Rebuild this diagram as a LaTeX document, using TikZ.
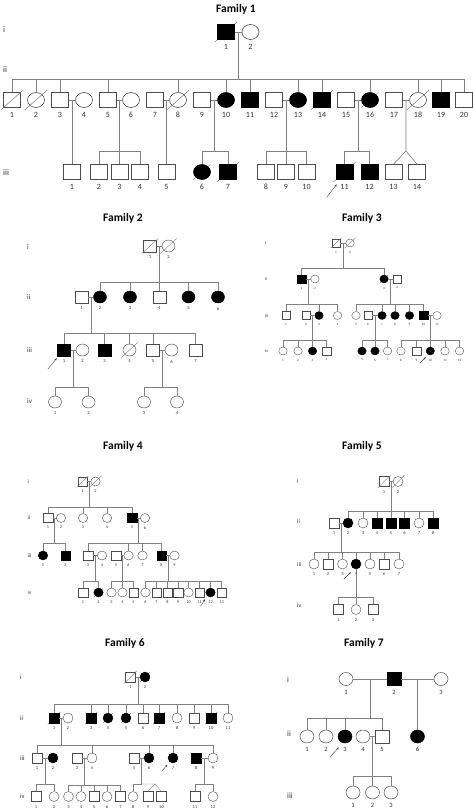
\documentclass[tikz,border=0pt]{standalone}
\usepackage{fontspec}
\setmainfont{Carlito}
\usetikzlibrary{shapes.geometric,calc,arrows.meta}

\tikzset{
  sz/.style={minimum width=10pt,minimum height=10pt},
  sq/.style={rectangle,draw=black!70,inner sep=0pt,sz},
  ci/.style={ellipse,draw=black!70,inner sep=0pt,sz},
  aff/.style={fill=black,draw=black},
  dead/.style={append after command={(\tikzlastnode.west |- \tikzlastnode.south) edge[slash] (\tikzlastnode.east |- \tikzlastnode.north)}},
  deadf/.style={aff,append after command={
    (\tikzlastnode.south west) edge[slash,shorten <=0pt] ($(\tikzlastnode.south west)!-0.1pt!(\tikzlastnode.north east)$)
    (\tikzlastnode.north east) edge[slash,shorten <=0pt] ($(\tikzlastnode.north east)!-0.1pt!(\tikzlastnode.south west)$)}},
  slash/.style={draw=black!55,line width=0.35pt,shorten <=-1.5pt,shorten >=-1.5pt},
  ln/.style={draw=black!50,line width=0.4pt},
  pro/.style={draw=black!75,line width=0.4pt,-{Stealth[length=2.5pt,width=2pt]}},
  num/.style={anchor=north,inner sep=0pt,text=black!80,font=\fontsize{5}{5}\selectfont,yshift=-3pt},
  gen/.style={anchor=west,inner sep=0pt,text=black!80,font=\fontsize{6}{6}\selectfont},
  title/.style={font=\fontsize{11.5}{13}\selectfont\bfseries}
}

% person: options, name prefix, number, position
\newcommand{\pn}[4]{\node[#1] (#2#3) at (#4) {}; \node[num] (#2#3n) at (#2#3.south) {#3};}
% parents, sibship line y, children
\newcommand{\kids}[4]{%
  \coordinate (#1#2) at ($(#1)!.5!(#2)$);
  \coordinate (sy) at (0,#3);
  \coordinate (#1#2s) at (#1#2 |- sy);
  \draw[ln] (#1#2) -- (#1#2s);
  \foreach \k in {#4} {\draw[ln] (#1#2s) -| (\k);}
}
\newcommand{\proband}[3]{\draw[pro] ($(#1.west |- #1.south)+(#2)$) -- ($(#1.west |- #1.south)+(#3)$);}

\begin{document}
\begin{tikzpicture}[x=1pt,y=-1pt]
\useasboundingbox (0,0) rectangle (473,811);

% Family 1
\begin{scope}[sz/.style={minimum width=17pt,minimum height=15pt,line width=0.6pt},
  num/.append style={font=\fontsize{8}{8}\selectfont,yshift=-1pt},
  gen/.append style={font=\fontsize{8.5}{9}\selectfont},
  ln/.append style={line width=0.6pt},slash/.append style={line width=0.45pt,shorten <=-3pt,shorten >=-3pt}]
\node[title] (aT) at (236,9) {Family 1};
\node[gen] (aGi) at (3,30) {i};
\node[gen] (aGii) at (3,70) {ii};
\node[gen] (aGiii) at (3,173) {iii};
\pn{sq,deadf}{aI}{1}{226,32}
\pn{ci}{aI}{2}{250.5,32}
\pn{sq,dead}{aII}{1}{12,100}
\pn{ci,dead}{aII}{2}{36,100}
\pn{sq}{aII}{3}{60,100}
\pn{ci}{aII}{4}{84,100}
\pn{sq}{aII}{5}{108,100}
\pn{ci}{aII}{6}{131,100}
\pn{sq}{aII}{7}{155,100}
\pn{ci,dead}{aII}{8}{178,100}
\pn{sq}{aII}{9}{202,100}
\pn{ci,aff}{aII}{10}{226,100}
\pn{sq,aff}{aII}{11}{250,100}
\pn{sq}{aII}{12}{274,100}
\pn{ci,aff}{aII}{13}{298,100}
\pn{sq,deadf}{aII}{14}{322,100}
\pn{sq}{aII}{15}{346,100}
\pn{ci,deadf}{aII}{16}{370,100}
\pn{sq}{aII}{17}{394,100}
\pn{ci,dead}{aII}{18}{418,100}
\pn{sq,aff}{aII}{19}{441,100}
\pn{sq}{aII}{20}{464,100}
\pn{sq}{aIII}{1}{72,172}
\pn{sq}{aIII}{2}{99,172}
\pn{sq}{aIII}{3}{119.5,172}
\pn{sq}{aIII}{4}{140,172}
\pn{sq}{aIII}{5}{166.5,172}
\pn{ci,deadf}{aIII}{6}{202,172}
\pn{sq,deadf}{aIII}{7}{228,172}
\pn{sq}{aIII}{8}{266,172}
\pn{sq}{aIII}{9}{286,172}
\pn{sq}{aIII}{10}{306.5,172}
\pn{sq,deadf}{aIII}{11}{344.5,172}
\pn{sq,aff}{aIII}{12}{369.5,172}
\pn{sq}{aIII}{13}{393.5,172}
\pn{sq}{aIII}{14}{417,172}
\draw[ln] (aI1) -- (aI2);
\kids{aI1}{aI2}{79}{aII1,aII2,aII3,aII5,aII8,aII10,aII11,aII13,aII14,aII16,aII18,aII19,aII20}
\foreach \a/\b in {aII3/aII4,aII5/aII6,aII7/aII8,aII9/aII10,aII12/aII13,aII15/aII16,aII17/aII18}
  \draw[ln] (\a) -- (\b);
\kids{aII3}{aII4}{160}{aIII1}
\kids{aII5}{aII6}{151}{aIII2,aIII3,aIII4}
\kids{aII7}{aII8}{160}{aIII5}
\kids{aII9}{aII10}{151}{aIII6,aIII7}
\kids{aII12}{aII13}{151}{aIII8,aIII9,aIII10}
\kids{aII15}{aII16}{151}{aIII11,aIII12}
% twins
\coordinate (aII17aII18) at ($(aII17)!.5!(aII18)$);
\coordinate (sy) at (0,151);
\coordinate (aTw) at (aII17aII18 |- sy);
\draw[ln] (aII17aII18) -- (aTw) -- (aIII13.north);
\draw[ln] (aTw) -- (aIII14.north);
\proband{aIII11}{-9,17.5}{1,4.5}
\end{scope}

% Family 2
\begin{scope}[sz/.style={minimum width=13pt,minimum height=12pt,line width=0.45pt},
  num/.append style={font=\fontsize{4.6}{5}\selectfont,yshift=-0.5pt},
  gen/.append style={font=\fontsize{7}{7}\selectfont},
  ln/.append style={line width=0.45pt},slash/.append style={shorten <=-2pt,shorten >=-2pt}]
\node[title] (bT) at (123,218) {Family 2};
\node[gen] (bGi) at (27,247) {i};
\node[gen] (bGii) at (27,297) {ii};
\node[gen] (bGiii) at (27,350) {iii};
\node[gen] (bGiv) at (27,401) {iv};
\pn{sq,dead}{bI}{1}{150,246}
\pn{ci,dead}{bI}{2}{168.5,246}
\pn{sq}{bII}{1}{81.5,297}
\pn{ci,aff}{bII}{2}{100,297}
\pn{ci,aff}{bII}{3}{130,297}
\pn{sq}{bII}{4}{159.25,297}
\pn{ci,aff}{bII}{5}{188.5,297}
\pn{ci,aff}{bII}{6}{218,297}
\pn{sq,aff}{bIII}{1}{64,350}
\pn{ci}{bIII}{2}{82.5,350}
\pn{sq,aff}{bIII}{3}{104.5,350}
\pn{ci,dead}{bIII}{4}{129.5,350}
\pn{sq}{bIII}{5}{153,350}
\pn{ci}{bIII}{6}{171.5,350}
\pn{sq}{bIII}{7}{195.5,350}
\pn{ci}{bIV}{1}{55,402}
\pn{ci}{bIV}{2}{88.5,402}
\pn{ci}{bIV}{3}{144,402}
\pn{ci}{bIV}{4}{177,402}
\draw[ln] (bI1) -- (bI2);
\kids{bI1}{bI2}{282}{bII2,bII3,bII4,bII5,bII6}
\draw[ln] (bII1) -- (bII2);
\kids{bII1}{bII2}{333}{bIII1,bIII3,bIII4,bIII5,bIII7}
\draw[ln] (bIII1) -- (bIII2);
\draw[ln] (bIII5) -- (bIII6);
\kids{bIII1}{bIII2}{387}{bIV1,bIV2}
\kids{bIII5}{bIII6}{387}{bIV3,bIV4}
\proband{bIII1}{-9.5,13}{-0.5,2}
\end{scope}

% Family 3
\begin{scope}[sz/.style={minimum width=8.5pt,minimum height=8pt,line width=0.35pt},
  num/.append style={font=\fontsize{3.3}{4}\selectfont,yshift=-0.5pt},
  gen/.append style={font=\fontsize{4.5}{5}\selectfont},
  ln/.append style={line width=0.35pt}]
\node[title] (cT) at (362,218) {Family 3};
\node[gen] (cGi) at (265,243) {i};
\node[gen] (cGii) at (265,279) {ii};
\node[gen] (cGiii) at (265,315.5) {iii};
\node[gen] (cGiv) at (265,351) {iv};
\pn{sq,dead}{cI}{1}{336,243}
\pn{ci,dead}{cI}{2}{350,243}
\pn{sq,aff}{cII}{1}{301.5,279}
\pn{ci}{cII}{2}{315,279}
\pn{ci,deadf}{cII}{3}{384,279}
\pn{sq}{cII}{4}{397,279}
\pn{sq}{cIII}{1}{286,315.5}
\pn{sq}{cIII}{2}{306,315.5}
\pn{ci,aff}{cIII}{3}{319,315.5}
\pn{ci}{cIII}{4}{337.5,315.5}
\pn{ci}{cIII}{5}{356,315.5}
\pn{sq}{cIII}{6}{368,315.5}
\pn{ci,aff}{cIII}{7}{382,315.5}
\pn{ci,aff}{cIII}{8}{395,315.5}
\pn{ci,aff}{cIII}{9}{409.5,315.5}
\pn{sq,aff}{cIII}{10}{423.5,315.5}
\pn{ci}{cIII}{11}{437,315.5}
\pn{ci}{cIV}{1}{283,351}
\pn{ci}{cIV}{2}{298,351}
\pn{ci,aff}{cIV}{3}{312.5,351}
\pn{sq}{cIV}{4}{326.5,351}
\pn{ci,aff}{cIV}{5}{362,351}
\pn{ci,aff}{cIV}{6}{375,351}
\pn{ci}{cIV}{7}{387.5,351}
\pn{ci}{cIV}{8}{401,351}
\pn{sq}{cIV}{9}{416.5,351}
\pn{ci,aff}{cIV}{10}{430.25,351}
\pn{ci}{cIV}{11}{445,351}
\pn{ci}{cIV}{12}{459.5,351}
\draw[ln] (cI1) -- (cI2);
\kids{cI1}{cI2}{268}{cII1,cII3}
\draw[ln] (cII1) -- (cII2);
\draw[ln] (cII3) -- (cII4);
\kids{cII1}{cII2}{304}{cIII1,cIII3,cIII4}
\kids{cII3}{cII4}{304}{cIII5,cIII7,cIII8,cIII9,cIII10}
\foreach \a/\b in {cIII2/cIII3,cIII6/cIII7,cIII10/cIII11}
  \draw[ln] (\a) -- (\b);
\kids{cIII2}{cIII3}{340}{cIV1,cIV2,cIV3,cIV4}
\kids{cIII6}{cIII7}{340}{cIV5,cIV6,cIV7}
\kids{cIII10}{cIII11}{340}{cIV8,cIV9,cIV10,cIV11,cIV12}
\proband{cIV10}{-6,8}{0,2}
\end{scope}

% Family 4
\begin{scope}[sz/.style={minimum width=9.5pt,minimum height=9pt,line width=0.4pt},
  num/.append style={font=\fontsize{4.2}{5}\selectfont,yshift=-0.3pt},
  gen/.append style={font=\fontsize{5.5}{6}\selectfont}]
\node[title] (dT) at (123,446) {Family 4};
\node[gen] (dGi) at (27.5,482) {i};
\node[gen] (dGii) at (27.5,518) {ii};
\node[gen] (dGiii) at (27.5,555.5) {iii};
\node[gen] (dGiv) at (27.5,592.5) {iv};
\pn{sq,dead}{dI}{1}{82.5,481.5}
\pn{ci,dead}{dI}{2}{95.5,481.5}
\pn{sq}{dII}{1}{48,518}
\pn{ci}{dII}{2}{61,518}
\pn{ci}{dII}{3}{83,518}
\pn{ci}{dII}{4}{107,518}
\pn{sq,aff}{dII}{5}{132,518}
\pn{ci}{dII}{6}{145,518}
\pn{ci,aff}{dIII}{1}{43,555.5}
\pn{sq,aff}{dIII}{2}{65.5,555.5}
\pn{sq}{dIII}{3}{88,555.5}
\pn{ci}{dIII}{4}{102,555.5}
\pn{sq}{dIII}{5}{116,555.5}
\pn{ci}{dIII}{6}{128.5,555.5}
\pn{ci}{dIII}{7}{142.5,555.5}
\pn{sq,aff}{dIII}{8}{161.5,555.5}
\pn{ci}{dIII}{9}{174.5,555.5}
\pn{sq}{dIV}{1}{83,592.5}
\pn{ci,deadf}{dIV}{2}{98.5,592.5}
\pn{ci}{dIV}{3}{111.5,592.5}
\pn{ci}{dIV}{4}{122.5,592.5}
\pn{sq}{dIV}{5}{133.5,592.5}
\pn{ci}{dIV}{6}{145.5,592.5}
\pn{sq}{dIV}{7}{156.5,592.5}
\pn{sq}{dIV}{8}{167.5,592.5}
\pn{sq}{dIV}{9}{178,592.5}
\pn{ci}{dIV}{10}{188.5,592.5}
\pn{sq}{dIV}{11}{199.5,592.5}
\pn{ci,aff}{dIV}{12}{210.5,592.5}
\pn{sq}{dIV}{13}{221.5,592.5}
\draw[ln] (dI1) -- (dI2);
\kids{dI1}{dI2}{507}{dII1,dII3,dII4,dII5}
\draw[ln] (dII1) -- (dII2);
\draw[ln] (dII5) -- (dII6);
\kids{dII1}{dII2}{543}{dIII1,dIII2}
\kids{dII5}{dII6}{543}{dIII3,dIII6,dIII7,dIII8}
\foreach \a/\b in {dIII3/dIII4,dIII5/dIII6,dIII8/dIII9}
  \draw[ln] (\a) -- (\b);
\kids{dIII3}{dIII4}{581}{dIV1,dIV2}
\kids{dIII5}{dIII6}{581}{dIV3,dIV4,dIV5}
\kids{dIII8}{dIII9}{581}{dIV6,dIV7,dIV8,dIV9,dIV10,dIV11,dIV12,dIV13}
\proband{dIV12}{-5,9}{-0.5,2}
\end{scope}

% Family 5
\begin{scope}[sz/.style={minimum width=10pt,minimum height=10pt,line width=0.4pt},
  num/.append style={font=\fontsize{4.5}{5}\selectfont,yshift=-0.5pt},
  gen/.append style={font=\fontsize{6}{6}\selectfont}]
\node[title] (eT) at (362,446) {Family 5};
\node[gen] (eGi) at (297,481) {i};
\node[gen] (eGii) at (297,521) {ii};
\node[gen] (eGiii) at (297,564) {iii};
\node[gen] (eGiv) at (297,605) {iv};
\pn{sq,dead}{eI}{1}{384,481.5}
\pn{ci,dead}{eI}{2}{398,481.5}
\pn{sq}{eII}{1}{334,523}
\pn{ci,aff}{eII}{2}{348,523}
\pn{ci}{eII}{3}{363,523}
\pn{sq,aff}{eII}{4}{377,523}
\pn{sq,aff}{eII}{5}{391,523}
\pn{sq,aff}{eII}{6}{404.5,523}
\pn{ci}{eII}{7}{419,523}
\pn{sq,aff}{eII}{8}{433,523}
\pn{ci}{eIII}{1}{314,564}
\pn{sq}{eIII}{2}{328,564}
\pn{ci}{eIII}{3}{342.5,564}
\pn{ci,aff}{eIII}{4}{356,564}
\pn{ci}{eIII}{5}{370,564}
\pn{sq}{eIII}{6}{384,564}
\pn{ci}{eIII}{7}{399,564}
\pn{sq}{eIV}{1}{338.5,609.5}
\pn{ci}{eIV}{2}{356,609.5}
\pn{sq}{eIV}{3}{373,609.5}
\draw[ln] (eI1) -- (eI2);
\kids{eI1}{eI2}{511}{eII2,eII3,eII4,eII5,eII6,eII7,eII8}
\draw[ln] (eII1) -- (eII2);
\kids{eII1}{eII2}{552}{eIII1,eIII2,eIII3,eIII4,eIII5,eIII6,eIII7}
\coordinate (sy) at (0,597);
\coordinate (eIII4s) at (eIII4 |- sy);
\draw[ln] (eIII4) -- (eIII4s);
\foreach \k in {eIV1,eIV2,eIV3} {\draw[ln] (eIII4s) -| (\k);}
\proband{eIII4}{-7,10}{0,3}
\end{scope}

% Family 6
\begin{scope}[sz/.style={minimum width=10pt,minimum height=10pt,line width=0.4pt},
  num/.append style={font=\fontsize{4.5}{5}\selectfont,yshift=-0.5pt},
  gen/.append style={font=\fontsize{6.5}{7}\selectfont}]
\node[title] (fT) at (125,643) {Family 6};
\node[gen] (fGi) at (20,677) {i};
\node[gen] (fGii) at (20,718) {ii};
\node[gen] (fGiii) at (20,758) {iii};
\node[gen] (fGiv) at (20,796.5) {iv};
\pn{sq,dead}{fI}{1}{130.5,677}
\pn{ci,deadf}{fI}{2}{145,677}
\pn{sq,deadf}{fII}{1}{54,718}
\pn{ci}{fII}{2}{68,718}
\pn{sq,deadf}{fII}{3}{91,718}
\pn{ci,deadf}{fII}{4}{108,718}
\pn{ci,deadf}{fII}{5}{126,718}
\pn{sq}{fII}{6}{143,718}
\pn{sq,deadf}{fII}{7}{159,718}
\pn{ci}{fII}{8}{177,718}
\pn{sq}{fII}{9}{194,718}
\pn{sq,deadf}{fII}{10}{211,718}
\pn{ci}{fII}{11}{228,718}
\pn{sq}{fIII}{1}{37,758}
\pn{ci,aff}{fIII}{2}{53,758}
\pn{sq}{fIII}{3}{77,758}
\pn{ci}{fIII}{4}{92,758}
\pn{sq}{fIII}{5}{134,758}
\pn{ci,aff}{fIII}{6}{149,758}
\pn{ci,aff}{fIII}{7}{173,758}
\pn{sq,aff}{fIII}{8}{196,758}
\pn{ci}{fIII}{9}{213,758}
\pn{sq}{fIV}{1}{36,796.5}
\pn{ci}{fIV}{2}{54,796.5}
\pn{ci}{fIV}{3}{68.5,796.5}
\pn{ci}{fIV}{4}{81,796.5}
\pn{sq}{fIV}{5}{94,796.5}
\pn{ci}{fIV}{6}{107,796.5}
\pn{sq}{fIV}{7}{120.5,796.5}
\pn{ci}{fIV}{8}{133,796.5}
\pn{sq}{fIV}{9}{148,796.5}
\pn{sq}{fIV}{10}{161.5,796.5}
\pn{sq}{fIV}{11}{195,796.5}
\pn{ci}{fIV}{12}{213,796.5}
\draw[ln] (fI1) -- (fI2);
\kids{fI1}{fI2}{704}{fII1,fII3,fII4,fII5,fII6,fII7,fII8,fII9,fII10,fII11}
\draw[ln] (fII1) -- (fII2);
\kids{fII1}{fII2}{745}{fIII1,fIII4,fIII6,fIII7,fIII9}
\foreach \a/\b in {fIII1/fIII2,fIII3/fIII4,fIII5/fIII6,fIII8/fIII9}
  \draw[ln] (\a) -- (\b);
\kids{fIII1}{fIII2}{784}{fIV1,fIV2}
\kids{fIII3}{fIII4}{785}{fIV3,fIV4,fIV5,fIV6,fIV7}
\kids{fIII5}{fIII6}{784}{fIV8}
\kids{fIII8}{fIII9}{784}{fIV11,fIV12}
% twins
\coordinate (fTw) at (155,784);
\draw[ln] (fIII5fIII6s) -- (fTw) -- (fIV9.north);
\draw[ln] (fTw) -- (fIV10.north);
\proband{fIII7}{-6,8}{-0.5,1.5}
\end{scope}

% Family 7
\begin{scope}[sz/.style={minimum width=14pt,minimum height=13pt,line width=0.5pt},
  num/.append style={font=\fontsize{6.5}{7}\selectfont,yshift=-1pt},
  gen/.append style={font=\fontsize{8}{8}\selectfont},
  ln/.append style={line width=0.5pt}]
\node[title] (gT) at (364,643) {Family 7};
\node[gen] (gGi) at (287,680) {i};
\node[gen] (gGii) at (287,734) {ii};
\node[gen] (gGiii) at (287,796) {iii};
\pn{ci}{gI}{1}{346,679}
\pn{sq,aff}{gI}{2}{394,679}
\pn{ci}{gI}{3}{441,679}
\pn{ci}{gII}{1}{307,736.5}
\pn{ci}{gII}{2}{326,736.5}
\pn{ci,aff}{gII}{3}{345,736.5}
\pn{ci}{gII}{4}{363,736.5}
\pn{sq}{gII}{5}{382,736.5}
\pn{ci,aff}{gII}{6}{417.5,736.5}
\pn{ci}{gIII}{1}{353,792.5}
\pn{ci}{gIII}{2}{372.5,792.5}
\pn{ci}{gIII}{3}{391,792.5}
\draw[ln] (gI1) -- (gI2);
\draw[ln] (gI2) -- (gI3);
\kids{gI1}{gI2}{718}{gII1,gII2,gII3,gII5}
\kids{gI2}{gI3}{725}{gII6}
\draw[ln] (gII4) -- (gII5);
\kids{gII4}{gII5}{776}{gIII1,gIII2,gIII3}
\proband{gII3}{-8,14}{1,4}
\end{scope}
\end{tikzpicture}
\end{document}
